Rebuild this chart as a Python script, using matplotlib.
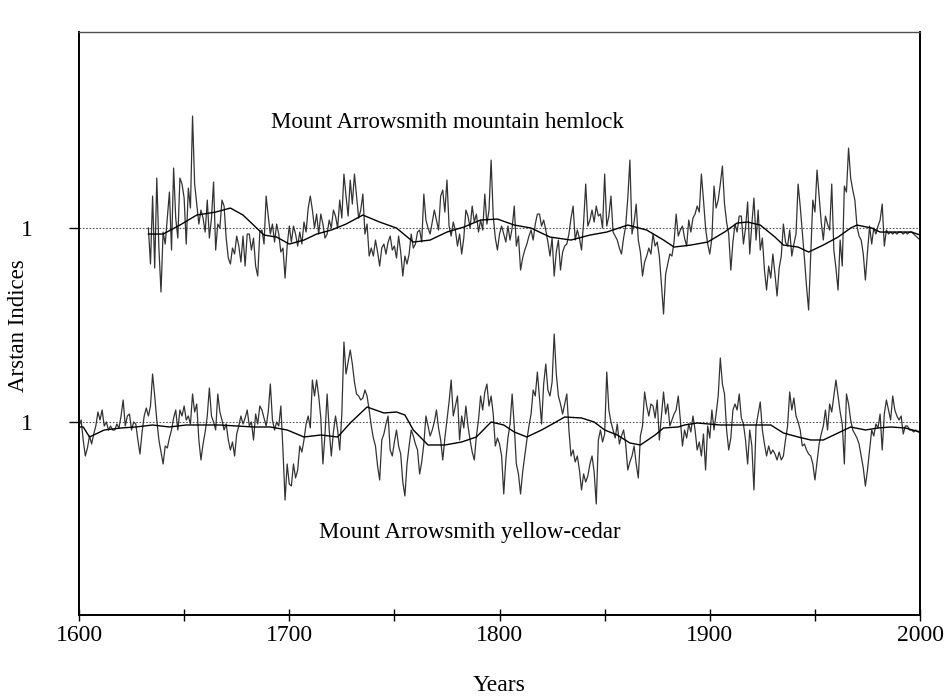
import matplotlib.pyplot as plt
import numpy as np

plt.rcParams['font.family'] = ['Liberation Serif', 'DejaVu Serif']

# ARSTAN chronologies, one value per year
hemlock_start = 1633
hemlock_index = [
    1.00, 0.82, 1.16, 0.80, 1.25, 0.90, 0.68,                          # 1633-1639
    0.98, 0.92, 1.05, 1.18, 0.89, 1.30, 1.05, 0.95, 1.25, 1.22,        # 1640s
    1.15, 0.92, 1.20, 1.10, 1.56, 1.22, 1.12, 1.02, 1.09, 1.05,        # 1650s
    0.98, 1.14, 0.95, 1.05, 1.23, 0.89, 1.02, 1.00, 1.14, 1.11,        # 1660s
    0.95, 0.85, 0.82, 0.90, 0.87, 0.96, 0.91, 0.83, 0.96, 0.81,        # 1670s
    0.97, 0.97, 0.89, 0.95, 0.81, 0.76, 0.98, 0.99, 0.92, 1.16,        # 1680s
    1.06, 0.97, 1.02, 0.93, 1.02, 0.97, 0.88, 0.90, 0.75, 0.91,        # 1690s
    1.01, 0.93, 1.01, 0.97, 0.91, 0.98, 0.92, 1.03, 0.98, 1.10,        # 1700s
    1.16, 1.09, 1.00, 1.07, 0.97, 1.07, 1.02, 0.95, 0.97, 1.04,        # 1710s
    1.00, 1.09, 1.06, 1.00, 1.14, 1.05, 1.27, 1.16, 1.06, 1.24,        # 1720s
    1.12, 1.27, 1.16, 1.05, 1.09, 1.17, 0.97, 1.02, 0.86, 0.90,        # 1730s
    0.86, 0.94, 0.88, 0.81, 0.90, 0.92, 0.87, 0.93, 0.96, 0.89,        # 1740s
    0.91, 0.85, 0.96, 0.88, 0.76, 0.86, 0.82, 0.87, 0.97, 0.90,        # 1750s
    0.92, 0.98, 0.99, 0.93, 1.17, 1.04, 1.00, 0.97, 1.03, 1.09,        # 1760s
    1.04, 0.99, 1.16, 1.19, 1.08, 1.24, 1.01, 0.96, 1.03, 0.99,        # 1770s
    0.91, 0.97, 0.87, 0.95, 1.09, 1.06, 1.00, 1.11, 1.03, 1.07,        # 1780s
    0.98, 1.04, 0.99, 1.17, 1.02, 1.09, 1.34, 1.06, 0.95, 0.89,        # 1790s
    0.97, 1.01, 0.97, 0.93, 1.01, 0.94, 1.00, 1.11, 0.91, 0.96,        # 1800s
    0.79, 0.85, 0.89, 0.92, 0.96, 0.99, 0.94, 1.02, 1.07, 1.07,        # 1810s
    1.01, 1.04, 0.99, 0.93, 0.86, 0.95, 0.76, 0.88, 0.94, 0.79,        # 1820s
    0.88, 0.91, 0.92, 0.97, 1.05, 1.11, 0.94, 0.99, 0.95, 0.89,        # 1830s
    1.03, 1.22, 1.01, 1.04, 1.09, 1.03, 1.11, 1.06, 1.07, 1.00,        # 1840s
    1.27, 1.01, 1.06, 1.16, 0.98, 0.96, 0.94, 0.90, 0.87, 0.95,        # 1850s
    1.01, 1.15, 1.34, 0.97, 1.03, 1.12, 0.94, 0.88, 0.76, 0.83,        # 1860s
    0.86, 0.90, 0.87, 0.97, 0.91, 0.93, 0.86, 0.72, 0.57, 0.77,        # 1870s
    0.82, 0.87, 0.86, 0.93, 1.07, 0.96, 0.99, 1.01, 0.95, 0.91,        # 1880s
    1.04, 0.98, 1.05, 1.07, 1.11, 1.08, 1.27, 1.14, 1.00, 0.92,        # 1890s
    0.87, 0.95, 1.21, 1.10, 1.14, 1.22, 1.31, 1.12, 1.03, 0.97,        # 1900s
    0.79, 0.93, 1.02, 0.98, 1.06, 1.06, 0.92, 1.00, 1.13, 0.87,        # 1910s
    1.02, 1.15, 0.94, 1.09, 0.89, 0.95, 0.79, 0.69, 0.81, 0.75,        # 1920s
    0.87, 0.77, 0.66, 0.80, 0.86, 1.02, 0.93, 0.91, 0.99, 0.86,        # 1930s
    0.92, 0.97, 1.22, 1.11, 0.98, 0.85, 0.71, 0.59, 0.86, 1.14,        # 1940s
    1.08, 1.29, 1.16, 1.03, 0.94, 1.06, 1.02, 0.99, 1.22, 0.89,        # 1950s
    0.80, 0.69, 0.94, 0.81, 1.21, 1.18, 1.40, 1.25, 1.19, 1.14,        # 1960s
    1.01, 0.96, 0.94, 0.87, 0.74, 0.88, 1.01, 0.92, 1.00, 0.97,        # 1970s
    1.01, 1.04, 1.12, 0.91, 0.99, 0.97, 0.98, 0.97, 0.98, 0.97,        # 1980s
    0.98, 0.98, 0.97, 0.98, 0.97, 0.98, 0.98, 0.97, 0.96, 0.95, 0.94,  # 1990-2000
]

cedar_start = 1600
cedar_index = [
    0.98, 1.01, 0.91, 0.83, 0.87, 0.93, 0.89, 0.94, 0.98, 1.05,        # 1600s
    1.01, 1.06, 0.98, 1.00, 0.96, 0.98, 0.96, 0.96, 0.99, 0.97,        # 1610s
    1.03, 1.11, 0.98, 1.03, 1.04, 0.96, 1.00, 0.99, 0.91, 0.84,        # 1620s
    0.95, 1.03, 1.07, 1.03, 1.08, 1.24, 1.13, 1.01, 0.91, 0.85,        # 1630s
    0.79, 0.88, 0.87, 0.92, 0.96, 1.02, 1.06, 0.96, 1.06, 1.03,        # 1640s
    1.08, 1.01, 1.03, 0.99, 1.14, 1.05, 1.09, 0.91, 0.81, 0.89,        # 1650s
    0.95, 1.03, 1.17, 1.03, 1.00, 0.96, 1.14, 1.05, 1.01, 0.96,        # 1660s
    0.99, 0.91, 0.86, 0.90, 0.83, 0.94, 0.98, 1.03, 0.99, 1.02,        # 1670s
    1.06, 0.98, 1.00, 0.91, 1.04, 0.99, 1.08, 1.06, 1.02, 0.98,        # 1680s
    1.05, 1.19, 1.01, 0.96, 1.00, 0.98, 1.08, 0.86, 0.61, 0.79,        # 1690s
    0.69, 0.68, 0.79, 0.72, 0.76, 0.88, 0.85, 0.91, 0.99, 1.03,        # 1700s
    0.97, 1.21, 1.13, 1.21, 1.13, 1.02, 0.79, 0.94, 1.14, 0.96,        # 1710s
    0.83, 0.95, 1.03, 0.96, 0.86, 1.04, 1.40, 1.24, 1.30, 1.36,        # 1720s
    1.29, 1.20, 1.14, 1.13, 1.11, 1.12, 1.16, 1.13, 1.06, 0.98,        # 1730s
    0.92, 0.88, 0.78, 0.71, 0.91, 0.94, 0.99, 1.03, 0.86, 0.83,        # 1740s
    0.90, 0.96, 0.88, 0.84, 0.70, 0.63, 0.79, 0.88, 0.96, 0.93,        # 1750s
    0.89, 0.86, 0.74, 0.80, 0.89, 1.03, 0.98, 0.93, 0.96, 1.00,        # 1760s
    1.06, 0.97, 0.91, 0.81, 0.92, 1.01, 1.10, 1.21, 1.03, 1.08,        # 1770s
    1.13, 0.91, 1.03, 0.97, 1.08, 0.98, 0.91, 0.85, 0.81, 0.93,        # 1780s
    1.01, 1.13, 1.06, 1.15, 1.19, 1.08, 1.13, 1.04, 0.88, 0.92,        # 1790s
    0.89, 0.83, 0.64, 0.81, 0.92, 0.99, 1.14, 0.98, 0.79, 0.74,        # 1800s
    0.64, 0.75, 0.83, 0.91, 0.98, 1.04, 1.16, 1.13, 1.25, 1.12,        # 1810s
    0.99, 1.19, 1.29, 1.16, 1.13, 1.20, 1.44, 1.24, 1.13, 1.09,        # 1820s
    1.04, 1.09, 1.14, 0.96, 0.83, 0.86, 0.80, 0.83, 0.76, 0.66,        # 1830s
    0.74, 0.70, 0.73, 0.79, 0.83, 0.75, 0.59, 0.91, 0.96, 0.90,        # 1840s
    0.94, 1.25, 1.06, 1.00, 0.96, 0.92, 0.99, 0.89, 0.93, 0.96,        # 1850s
    0.89, 0.76, 0.80, 0.83, 0.88, 0.79, 0.72, 0.93, 0.98, 1.15,        # 1860s
    1.08, 1.03, 1.09, 1.08, 1.02, 1.11, 0.91, 1.03, 1.15, 1.04,        # 1870s
    1.09, 0.98, 1.01, 1.04, 1.06, 1.13, 1.01, 0.88, 0.96, 0.92,        # 1880s
    0.99, 0.95, 1.03, 0.96, 0.86, 0.90, 0.83, 0.94, 0.76, 0.98,        # 1890s
    0.92, 1.06, 0.96, 1.04, 1.13, 1.32, 1.19, 1.14, 0.96, 0.86,        # 1900s
    0.92, 1.06, 1.09, 1.06, 1.14, 1.02, 0.99, 0.91, 0.79, 0.96,        # 1910s
    0.88, 0.66, 0.98, 1.04, 1.10, 0.96, 0.89, 0.83, 0.88, 0.84,        # 1920s
    0.86, 0.84, 0.81, 0.85, 0.81, 0.83, 0.91, 0.98, 1.15, 1.06,        # 1930s
    1.12, 1.03, 1.00, 0.96, 0.88, 0.89, 0.86, 0.84, 0.83, 0.79,        # 1940s
    0.71, 0.80, 0.89, 0.94, 0.98, 1.06, 0.96, 1.09, 1.05, 1.13,        # 1950s
    1.21, 1.13, 1.05, 0.99, 0.79, 1.14, 1.09, 1.01, 0.96, 0.94,        # 1960s
    0.92, 0.89, 0.83, 0.77, 0.68, 0.76, 0.86, 0.96, 0.93, 0.99,        # 1970s
    0.97, 1.04, 0.86, 1.04, 1.11, 1.06, 1.01, 1.13, 1.06, 1.03,        # 1980s
    1.01, 1.03, 0.94, 0.98, 0.98, 0.96, 0.96, 0.95, 0.96, 0.95, 0.95,  # 1990-2000
]

# smoothing splines drawn over the chronologies
hemlock_spline_years = [1633, 1640, 1648, 1656, 1665, 1672, 1678, 1683, 1688, 1694,
                        1700, 1707, 1713, 1720, 1727, 1735, 1743, 1751, 1759, 1767,
                        1775, 1783, 1791, 1799, 1807, 1815, 1824, 1834, 1843, 1851,
                        1861, 1870, 1878, 1883, 1891, 1899, 1907, 1913, 1918, 1924,
                        1931, 1935, 1942, 1947, 1954, 1961, 1967, 1970, 1977, 1981,
                        1989, 1996, 2000]
hemlock_spline = [0.97, 0.97, 1.015, 1.065, 1.08, 1.10, 1.065, 1.015, 0.965, 0.955,
                  0.92, 0.94, 0.97, 0.99, 1.02, 1.065, 1.03, 1.00, 0.93, 0.94,
                  0.98, 1.005, 1.04, 1.045, 1.015, 1.00, 0.955, 0.94, 0.965, 0.98,
                  1.015, 0.99, 0.94, 0.905, 0.915, 0.93, 0.98, 1.025, 1.03, 1.015,
                  0.955, 0.915, 0.905, 0.88, 0.915, 0.955, 1.00, 1.015, 1.00, 0.98,
                  0.98, 0.98, 0.965]

cedar_spline_years = [1600, 1602, 1605, 1612, 1620, 1627, 1635, 1643, 1651, 1667,
                      1683, 1691, 1699, 1707, 1715, 1723, 1729, 1737, 1745, 1751,
                      1755, 1759, 1766, 1774, 1782, 1789, 1796, 1802, 1807, 1813,
                      1820, 1826, 1831, 1839, 1845, 1850, 1856, 1862, 1867, 1874,
                      1878, 1885, 1888, 1894, 1905, 1929, 1935, 1942, 1948, 1954,
                      1961, 1967, 1974, 1980, 1986, 1993, 2000]
cedar_spline = [0.975, 0.975, 0.925, 0.96, 0.97, 0.975, 0.985, 0.975, 0.985, 0.985,
                0.975, 0.975, 0.96, 0.925, 0.935, 0.925, 0.995, 1.075, 1.045, 1.05,
                1.035, 0.96, 0.885, 0.885, 0.90, 0.925, 1.00, 0.985, 0.95, 0.925,
                0.96, 0.995, 1.025, 1.02, 1.00, 0.96, 0.935, 0.895, 0.885, 0.935,
                0.97, 0.975, 0.985, 0.995, 0.985, 0.985, 0.945, 0.925, 0.91, 0.91,
                0.945, 0.975, 0.96, 0.97, 0.975, 0.97, 0.95]

OFFSET = 0.97  # hemlock is stacked above the cedar on one axis

hem_years = np.arange(hemlock_start, hemlock_start + len(hemlock_index))
ced_years = np.arange(cedar_start, cedar_start + len(cedar_index))

fig = plt.figure(figsize=(9.45, 6.98), dpi=100)
ax = fig.add_axes([0.0836, 0.119, 0.89, 0.835])

# reference lines at index 1
ax.axhline(1 + OFFSET, ls=(0, (1.5, 1.5)), lw=0.8, color='0.35')
ax.axhline(1, ls=(0, (1.5, 1.5)), lw=0.8, color='0.35')

ax.plot(hem_years, np.array(hemlock_index) + OFFSET, color='0.2', lw=0.9)
ax.plot(hemlock_spline_years, np.array(hemlock_spline) + OFFSET, color='black', lw=1.0)
ax.plot(ced_years, cedar_index, color='0.2', lw=0.9)
ax.plot(cedar_spline_years, cedar_spline, color='black', lw=1.0)

ax.text(1775, 2.50, 'Mount Arrowsmith mountain hemlock', fontsize=16.5,
        ha='center', va='center')
ax.text(1786, 0.445, 'Mount Arrowsmith yellow-cedar', fontsize=16.5,
        ha='center', va='center')

ax.set_xlim(1600, 2000)
ax.set_ylim(0.035, 2.95)

ax.set_xticks(range(1600, 2001, 100))
ax.set_xticks(range(1650, 2000, 100), minor=True)
ax.tick_params(axis='x', which='both', direction='inout', length=9, width=1,
               labelsize=17, pad=3)
ax.set_yticks([1, 1 + OFFSET])
ax.set_yticklabels(['1', '1'])
ax.tick_params(axis='y', direction='out', length=7, width=1, labelsize=17, pad=26)

ax.set_xlabel('Years', fontsize=17)
ax.xaxis.set_label_coords(0.5, -0.103)
ax.set_ylabel('Arstan Indices', fontsize=16.5)
ax.yaxis.set_label_coords(-0.06, 0.497)

for side in ['left', 'bottom', 'right']:
    ax.spines[side].set_linewidth(1.4)
ax.spines['top'].set_linewidth(1.0)
ax.spines['top'].set_color('0.3')

plt.savefig('out.png', dpi=100)
